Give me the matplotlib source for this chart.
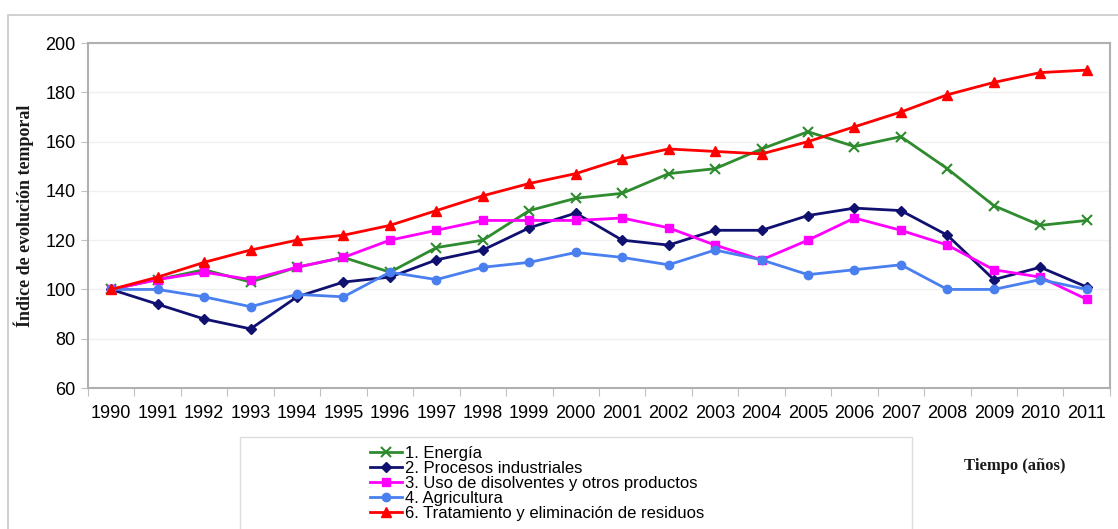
import numpy as np
import matplotlib.pyplot as plt
from matplotlib.patches import Rectangle

# --- data ---
years = [str(y) for y in range(1990, 2012)]
energia = [100, 104, 108, 103, 109, 113, 107, 117, 120, 132, 137, 139, 147, 149, 157, 164, 158, 162, 149, 134, 126, 128]
industriales = [100, 94, 88, 84, 97, 103, 105, 112, 116, 125, 131, 120, 118, 124, 124, 130, 133, 132, 122, 104, 109, 101]
disolventes = [100, 104, 107, 104, 109, 113, 120, 124, 128, 128, 128, 129, 125, 118, 112, 120, 129, 124, 118, 108, 105, 96]
agricultura = [100, 100, 97, 93, 98, 97, 107, 104, 109, 111, 115, 113, 110, 116, 112, 106, 108, 110, 100, 100, 104, 100]
residuos = [100, 105, 111, 116, 120, 122, 126, 132, 138, 143, 147, 153, 157, 156, 155, 160, 166, 172, 179, 184, 188, 189]

labels = ["1. Energía", "2. Procesos industriales", "3. Uso de disolventes y otros productos",
          "4. Agricultura", "6. Tratamiento y eliminación de residuos"]

plt.rcParams['font.family'] = ['Liberation Sans', 'DejaVu Sans']

fig = plt.figure(figsize=(11.18, 5.29), dpi=100)
ax = fig.add_axes([0.0787, 0.2665, 0.9141, 0.6522])

# outer chart frame
fig.patches.append(Rectangle((8 / 1118, -0.05), 1.2, (529 - 15) / 529 + 0.05,
                             transform=fig.transFigure, fill=False, edgecolor='#c8c8c8', lw=1.2))

x = np.arange(len(years))
series = [
    (energia, '#2e8b2e', 'x', 7),
    (industriales, '#101070', 'D', 5),
    (disolventes, '#ff00ff', 's', 6),
    (agricultura, '#4a7ff0', 'o', 6),
    (residuos, '#ff0000', '^', 7),
]
handles = []
for (vals, col, mk, ms), lab in zip(series, labels):
    h, = ax.plot(x, vals, color=col, marker=mk, markersize=ms, lw=2, label=lab,
                 markeredgecolor=col, markeredgewidth=1.5 if mk == 'x' else 1)
    handles.append(h)

ax.set_xlim(-0.5, len(years) - 0.5)
ax.set_ylim(60, 200)
ax.set_yticks(range(60, 201, 20))
ax.yaxis.grid(True, color='#f0f0f0', lw=1)
ax.set_axisbelow(True)

ax.set_xticks(np.arange(-0.5, len(years), 1))
ax.set_xticklabels([])
ax.tick_params(axis='x', which='major', length=6, color='#c0c0c0', direction='out')
ax.set_xticks(x, minor=True)
ax.set_xticklabels(years, minor=True, fontsize=13)
ax.tick_params(axis='x', which='minor', length=0, pad=12)
ax.tick_params(axis='y', length=5, color='#c0c0c0', labelsize=13, pad=4)

for s in ax.spines.values():
    s.set_color('#b0b0b0')
    s.set_linewidth(1.5)

ax.set_ylabel("Índice de evolución temporal", fontsize=13, fontweight='bold',
              family=['Liberation Serif', 'DejaVu Serif'], color='#1a1a1a', labelpad=8)

fig.text(1015 / 1118, 1 - 466 / 529, "Tiempo (años)", fontsize=12, fontweight='bold',
         family=['Liberation Serif', 'DejaVu Serif'], ha='center', va='center', color='#1a1a1a')

# legend box
fig.patches.append(Rectangle((240 / 1118, -0.05), (912 - 240) / 1118, (529 - 437) / 529 + 0.05,
                             transform=fig.transFigure, fill=False, edgecolor='#dcdcdc', lw=1))
leg = fig.legend(handles=handles, loc='upper left', bbox_to_anchor=(370 / 1118, 1 - 446 / 529),
                 frameon=False, fontsize=12, labelspacing=0.0, handlelength=1.9,
                 handletextpad=0.2, borderaxespad=0, borderpad=0)

fig.savefig("out.png", dpi=100)
